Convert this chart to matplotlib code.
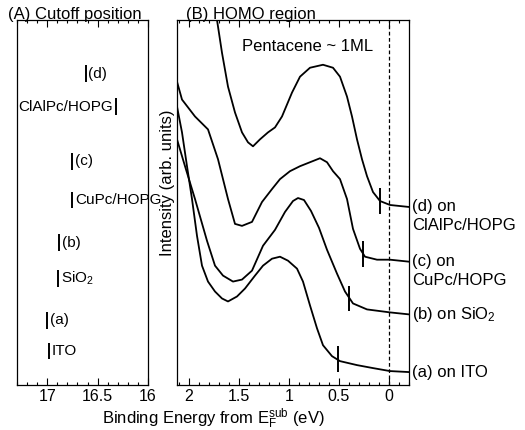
import numpy as np
import matplotlib
matplotlib.use("Agg")
from matplotlib import pyplot as plt
from matplotlib.ticker import MultipleLocator

plt.rcParams['font.family'] = ['Liberation Sans', 'DejaVu Sans']
plt.rcParams['mathtext.fontset'] = 'custom'
plt.rcParams['mathtext.rm'] = 'Liberation Sans'
plt.rcParams['mathtext.it'] = 'Liberation Sans:italic'

# (A) cutoff positions (eV) and their label heights (axes fraction)
cut_labels = ['(d)', 'ClAlPc/HOPG', '(c)', 'CuPc/HOPG', '(b)', 'SiO$_2$', '(a)', 'ITO']
cut_energy = [16.62, 16.32, 16.75, 16.75, 16.88, 16.89, 17.00, 16.98]
cut_height = [0.853, 0.763, 0.613, 0.507, 0.390, 0.292, 0.177, 0.093]
cut_side = ['right', 'left', 'right', 'right', 'right', 'right', 'right', 'right']

# (B) HOMO spectra, binding energy (eV) vs intensity (arb.)
e_a = [2.12, 2.07, 2.02, 1.97, 1.92, 1.87, 1.81, 1.74, 1.67, 1.61, 1.52, 1.44, 1.34, 1.26,
       1.17, 1.09, 1.01, 0.92, 0.86, 0.79, 0.72, 0.66, 0.57, 0.49, 0.32, 0.16, -0.01, -0.2]
i_a = [280, 254, 220, 187, 150, 120, 104, 94, 87, 84, 89, 97, 110, 120,
       127, 129, 125, 117, 104, 80, 57, 40, 29, 24, 20, 17, 14, 13]

e_b = [2.12, 2.04, 1.94, 1.82, 1.74, 1.66, 1.56, 1.47, 1.37, 1.26, 1.14, 1.04, 0.96, 0.91,
       0.85, 0.78, 0.70, 0.62, 0.52, 0.44, 0.36, 0.22, -0.01, -0.2]
i_b = [247, 220, 187, 145, 120, 110, 104, 106, 115, 140, 156, 174, 185, 188,
       186, 175, 158, 136, 112, 94, 82, 76, 73, 71]

e_c = [2.12, 2.07, 1.94, 1.81, 1.71, 1.61, 1.54, 1.47, 1.37, 1.27, 1.17, 1.09, 0.99, 0.89,
       0.79, 0.69, 0.62, 0.56, 0.49, 0.42, 0.36, 0.29, 0.24, 0.12, -0.01, -0.2]
i_c = [305, 287, 270, 257, 227, 187, 162, 160, 164, 184, 197, 207, 215, 220,
       224, 228, 224, 215, 207, 187, 157, 137, 129, 126, 126, 124]

e_d = [1.75, 1.72, 1.67, 1.61, 1.54, 1.47, 1.41, 1.36, 1.29, 1.21, 1.14, 1.07, 0.97, 0.89,
       0.79, 0.66, 0.56, 0.49, 0.42, 0.37, 0.32, 0.27, 0.22, 0.16, 0.09, -0.01, -0.2]
i_d = [390, 367, 334, 300, 274, 254, 244, 240, 247, 254, 259, 270, 294, 310,
       319, 322, 319, 310, 290, 270, 247, 227, 210, 194, 185, 181, 179]

onset_e = [0.51, 0.40, 0.26, 0.09]
onset_i = [26, 87, 132, 185]
end_labels = [['(a) on ITO'], ['(b) on SiO$_2$'], ['(c) on', 'CuPc/HOPG'], ['(d) on', 'ClAlPc/HOPG']]
end_i = [13, 71, 124, 179]

fig = plt.figure(figsize=(5.25, 4.3), dpi=100)
axA = fig.add_axes([17/525, 45/430, 131/525, 365/430])
axB = fig.add_axes([177/525, 45/430, 232/525, 365/430])

for ax in (axA, axB):
    for s in ax.spines.values():
        s.set_linewidth(0.9)
    ax.xaxis.set_minor_locator(MultipleLocator(0.1))
    ax.xaxis.set_major_locator(MultipleLocator(0.5))
    ax.tick_params(axis='x', which='both', direction='in', top=True, labelsize=11.5, pad=3, width=0.8)
    ax.tick_params(axis='x', which='major', length=5)
    ax.tick_params(axis='x', which='minor', length=2.5)
    ax.set_yticks([])

# panel A
axA.set_xlim(17.3, 16.0)
axA.set_ylim(0, 1)
axA.set_xticks([17, 16.5, 16])
axA.set_xticklabels(['17', '16.5', '16'])
for lab, e, h, side in zip(cut_labels, cut_energy, cut_height, cut_side):
    axA.vlines(e, h - 0.023, h + 0.023, color='black', lw=1.4)
    if side == 'right':
        axA.annotate(lab, (e, h), xytext=(2, 0), textcoords='offset points',
                     ha='left', va='center', fontsize=11, annotation_clip=False)
    else:
        axA.annotate(lab, (e, h), xytext=(-2, 0), textcoords='offset points',
                     ha='right', va='center', fontsize=11, annotation_clip=False)
axA.text(0.44, 0.995, '(A) Cutoff position', transform=axA.transAxes,
         ha='center', va='bottom', fontsize=12)

# panel B
axB.set_xlim(2.12, -0.2)
axB.set_ylim(0, 367)
axB.set_xticks([2, 1.5, 1, 0.5, 0])
axB.set_xticklabels(['2', '1.5', '1', '0.5', '0'])
for e, i in [(e_a, i_a), (e_b, i_b), (e_c, i_c), (e_d, i_d)]:
    axB.plot(e, i, color='black', lw=1.3)
axB.axvline(0, color='black', lw=0.9, ls=(0, (3, 2)))
for e, i in zip(onset_e, onset_i):
    axB.vlines(e, i - 13, i + 13, color='black', lw=1.4)
for lines, i in zip(end_labels, end_i):
    for k, line in enumerate(lines):
        axB.annotate(line, (1.0, i - 19 * k), xycoords=('axes fraction', 'data'),
                     xytext=(2, 0), textcoords='offset points',
                     ha='left', va='center', fontsize=12, annotation_clip=False)
axB.text(0.815, 340, 'Pentacene ~ 1ML', ha='center', va='center', fontsize=12)
axB.text(0.32, 0.995, '(B) HOMO region', transform=axB.transAxes,
         ha='center', va='bottom', fontsize=12)
axB.text(-9.5/232, 203/367, 'Intensity (arb. units)', transform=axB.transAxes,
         rotation=90, ha='center', va='center', fontsize=12)

fig.text(213/525, 6/430, r'Binding Energy from E$_\mathrm{F}^\mathrm{sub}$ (eV)',
         ha='center', va='baseline', fontsize=12)

fig.savefig('out.png', dpi=100)
